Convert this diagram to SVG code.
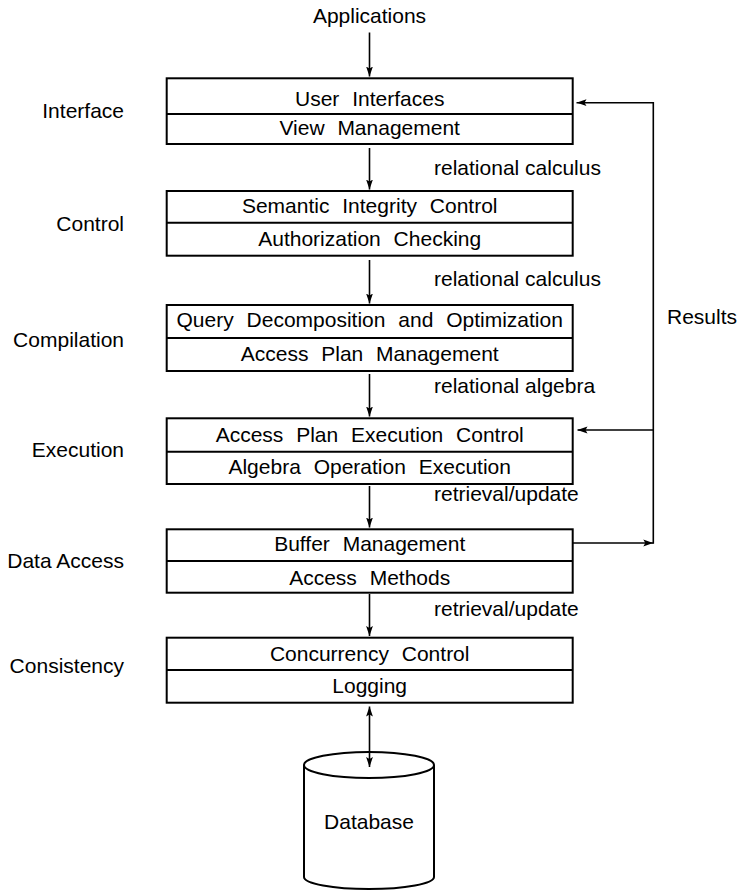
<svg xmlns="http://www.w3.org/2000/svg" width="740" height="890" viewBox="0 0 740 890">
<style>
text{font-family:"Liberation Sans",Arial,Helvetica,sans-serif;font-size:21px;fill:#000}
.c{text-anchor:middle;word-spacing:7px}
.l{text-anchor:end}
.box{fill:#fff;stroke:#000;stroke-width:2}
.div{stroke:#000;stroke-width:2}
.ln{stroke:#000;stroke-width:1.6;fill:none}
.cyl{fill:#fff;stroke:#000;stroke-width:2}
</style>
<defs>
<marker id="ah" viewBox="0 0 10 8" refX="10" refY="4" markerWidth="10" markerHeight="8" markerUnits="userSpaceOnUse" orient="auto-start-reverse">
<path d="M0,0.6 L10,4 L0,7.4 L2,4 z" fill="#000"/>
</marker>
</defs>
<rect width="740" height="890" fill="#fff"/>
<g id="labels">
<text x="369.5" y="23" text-anchor="middle">Applications</text>
<text class="l" x="124" y="117.5">Interface</text>
<text class="l" x="124" y="230.5">Control</text>
<text class="l" x="124" y="346.5">Compilation</text>
<text class="l" x="124" y="456.5">Execution</text>
<text class="l" x="124" y="567.5">Data Access</text>
<text class="l" x="124" y="673">Consistency</text>
<text x="434" y="175">relational calculus</text>
<text x="434" y="286">relational calculus</text>
<text x="434" y="393">relational algebra</text>
<text x="434" y="501">retrieval/update</text>
<text x="434" y="616">retrieval/update</text>
<text x="667" y="324">Results</text>
</g>
<g id="box-interface">
<rect class="box" x="166.7" y="78.3" width="406" height="65.7"/>
<line class="div" x1="166.7" y1="114" x2="572.7" y2="114"/>
<text class="c" x="369.7" y="106">User Interfaces</text>
<text class="c" x="369.7" y="134.5">View Management</text>
</g>
<g id="box-control">
<rect class="box" x="166.7" y="191" width="406" height="64.7"/>
<line class="div" x1="166.7" y1="222.7" x2="572.7" y2="222.7"/>
<text class="c" x="369.7" y="213">Semantic Integrity Control</text>
<text class="c" x="369.7" y="245.7">Authorization Checking</text>
</g>
<g id="box-compilation">
<rect class="box" x="166.7" y="305" width="406" height="66"/>
<line class="div" x1="166.7" y1="338" x2="572.7" y2="338"/>
<text class="c" x="369.7" y="327">Query Decomposition and Optimization</text>
<text class="c" x="369.7" y="360.5">Access Plan Management</text>
</g>
<g id="box-execution">
<rect class="box" x="166.7" y="418.3" width="406" height="65.7"/>
<line class="div" x1="166.7" y1="451.7" x2="572.7" y2="451.7"/>
<text class="c" x="369.7" y="441.7">Access Plan Execution Control</text>
<text class="c" x="369.7" y="474">Algebra Operation Execution</text>
</g>
<g id="box-dataaccess">
<rect class="box" x="166.7" y="529.3" width="406" height="63.4"/>
<line class="div" x1="166.7" y1="561" x2="572.7" y2="561"/>
<text class="c" x="369.7" y="551">Buffer Management</text>
<text class="c" x="369.7" y="584.5">Access Methods</text>
</g>
<g id="box-consistency">
<rect class="box" x="166.7" y="637.7" width="406" height="65"/>
<line class="div" x1="166.7" y1="670" x2="572.7" y2="670"/>
<text class="c" x="369.7" y="660.5">Concurrency Control</text>
<text class="c" x="369.7" y="693">Logging</text>
</g>
<g id="database">
<path class="cyl" d="M304,765 L304,877 A65,12 0 0 0 434,877 L434,765"/>
<ellipse class="cyl" cx="369" cy="765" rx="65" ry="13"/>
<text x="369" y="829" text-anchor="middle">Database</text>
</g>
<g id="connectors">
<line class="ln" x1="369.5" y1="32.5" x2="369.5" y2="76.5" marker-end="url(#ah)"/>
<line class="ln" x1="369.5" y1="148" x2="369.5" y2="189.5" marker-end="url(#ah)"/>
<line class="ln" x1="369.5" y1="260" x2="369.5" y2="303.5" marker-end="url(#ah)"/>
<line class="ln" x1="369.5" y1="374" x2="369.5" y2="416.5" marker-end="url(#ah)"/>
<line class="ln" x1="369.5" y1="486" x2="369.5" y2="527.5" marker-end="url(#ah)"/>
<line class="ln" x1="369.5" y1="594" x2="369.5" y2="636" marker-end="url(#ah)"/>
<line class="ln" x1="369.5" y1="706.5" x2="369.5" y2="767" marker-start="url(#ah)" marker-end="url(#ah)"/>
<line class="ln" x1="572.7" y1="543" x2="653.3" y2="543" marker-end="url(#ah)"/>
<line class="ln" x1="653.3" y1="102" x2="653.3" y2="543.8"/>
<line class="ln" x1="654" y1="102.7" x2="576.5" y2="102.7" marker-end="url(#ah)"/>
<line class="ln" x1="654" y1="430" x2="577.5" y2="430" marker-end="url(#ah)"/>
</g>
</svg>
